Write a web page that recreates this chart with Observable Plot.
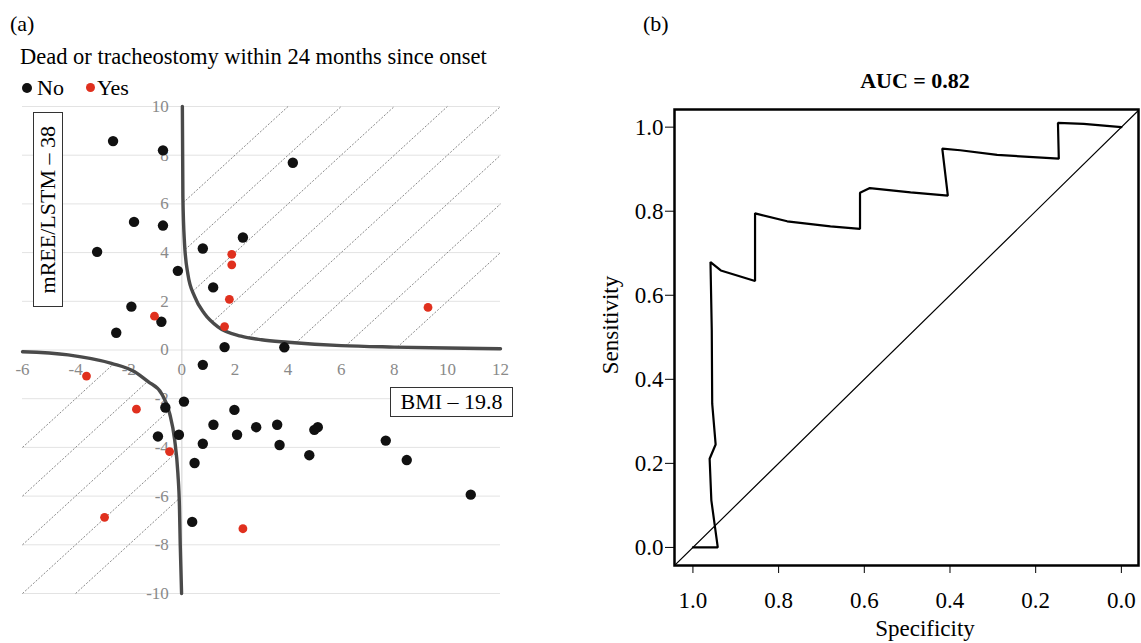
<!DOCTYPE html>
<html><head><meta charset="utf-8">
<script src="https://cdn.jsdelivr.net/npm/d3@7"></script>
<script src="https://cdn.jsdelivr.net/npm/@observablehq/plot@0.6"></script>
<style>
body{margin:0;background:#fff;}
#root{position:relative;width:1141px;height:643px;overflow:hidden;font-family:"Liberation Serif","Times New Roman",serif;color:#000;background:#fff;}
.abs{position:absolute;line-height:1;white-space:nowrap;}
.box{position:absolute;border:1px solid #333;background:#fff;box-sizing:border-box;display:flex;align-items:center;justify-content:center;line-height:1;white-space:nowrap;}
.dot{display:inline-block;border-radius:50%;vertical-align:middle;}
</style></head><body>
<div id="root">
  <div class="abs" style="left:10px;top:13px;font-size:22px;">(a)</div>
  <div class="abs" style="left:20px;top:46px;font-size:22.5px;">Dead or tracheostomy within 24 months since onset</div>
  <div class="abs" style="left:22px;top:77px;font-size:22px;"><span class="dot" style="width:10px;height:10px;background:#111;margin-right:5px;position:relative;top:-2px"></span>No<span class="dot" style="width:9px;height:9px;background:#e0301e;margin-left:22px;margin-right:2px;position:relative;top:-2px"></span>Yes</div>
  <div id="plotA" class="abs" style="left:0px;top:90px;"></div>
  <div class="box" style="left:33px;top:112px;width:30px;height:195px;"><span style="writing-mode:vertical-rl;transform:rotate(180deg);font-size:22px;">mREE/LSTM – 38</span></div>
  <div class="box" style="left:390px;top:387px;width:123px;height:30px;font-size:22px;">BMI – 19.8</div>

  <div class="abs" style="left:643px;top:13px;font-size:22px;">(b)</div>
  <div class="abs" style="left:915px;top:70px;font-size:22px;font-weight:bold;transform:translateX(-50%);">AUC = 0.82</div>
  <div id="plotB" class="abs" style="left:590px;top:60px;"></div>
  <div class="abs" style="left:610px;top:325px;font-size:23px;transform:translate(-50%,-50%) rotate(-90deg);">Sensitivity</div>
  <div class="abs" style="left:925px;top:617px;font-size:23px;transform:translateX(-50%);">Specificity</div>
</div>
<script>
// ---------- Panel (a) data ----------
const noX = [-2.59,-0.71,-1.80,-0.71,-3.19,0.79,2.30,-0.15,1.18,-1.90,-0.77,-2.47,1.61,4.18,3.86,0.79,0.08,-0.62,1.98,1.19,2.80,3.59,-0.90,-0.11,2.08,0.79,3.68,0.48,0.39,4.99,5.12,7.68,4.80,8.47,10.88];
const noY = [8.58,8.20,5.26,5.11,4.03,4.17,4.62,3.25,2.57,1.78,1.16,0.71,0.12,7.69,0.11,-0.61,-2.12,-2.36,-2.46,-3.07,-3.17,-3.07,-3.55,-3.48,-3.48,-3.85,-3.90,-4.64,-7.06,-3.28,-3.17,-3.72,-4.32,-4.52,-5.94];
const yesX = [1.88,1.88,1.79,-1.03,1.61,9.27,-3.59,-1.71,-0.46,-2.91,2.30];
const yesY = [3.93,3.50,2.08,1.39,0.96,1.75,-1.07,-2.43,-4.17,-6.87,-7.34];

const upperX = [0.02,0.04,0.1,0.23,0.48,0.85,1.36,2.23,3.0,4.0,6.0,8.0,10.0,12.0];
const upperY = [10,6.3,4.4,3.1,2.2,1.5,0.95,0.57,0.42,0.32,0.18,0.12,0.08,0.05];
const lowerX = [-6,-4.28,-2.65,-1.78,-1.27,-0.77,-0.46,-0.27,-0.15,-0.09,-0.06,-0.01];
const lowerY = [-0.07,-0.2,-0.55,-0.89,-1.3,-1.78,-2.6,-3.69,-5.05,-6.42,-8,-10];

const xDomainA = [-6, 12];
const yDomainA = [-10, 10];
const xTicksA = [-6,-4,-2,0,2,4,6,8,10,12];
const yTicksA = [-10,-8,-6,-4,-2,0,2,4,6,8,10];
const upperHatchK = [6,4,2,0,-2,-4,-6,-8];   // hatch lines y = x + k
const lowerHatchK = [2,0,-2,-4,-6];

// ---------- Panel (b) data ----------
const rocSpec = [1.0,0.942,0.957,0.961,0.947,0.955,0.956,0.959,0.935,0.855,0.855,0.780,0.679,0.610,0.610,0.587,0.492,0.405,0.418,0.376,0.290,0.146,0.148,0.088,0.0];
const rocSens = [0.0,0.0,0.112,0.211,0.245,0.342,0.516,0.679,0.659,0.634,0.795,0.776,0.764,0.758,0.844,0.855,0.845,0.837,0.949,0.945,0.934,0.925,1.010,1.008,1.0];
const rocTicks = [0,0.2,0.4,0.6,0.8,1.0];
const specDomain = [1.043, -0.04];
const sensDomain = [-0.043, 1.042];

// ---------- helpers ----------
function interp(xs, ys, x) {
  for (let i = 0; i < xs.length - 1; i++) {
    if (x >= xs[i] && x <= xs[i+1]) {
      const t = (x - xs[i]) / (xs[i+1] - xs[i]);
      return ys[i] + t * (ys[i+1] - ys[i]);
    }
  }
  return x < xs[0] ? ys[0] : ys[ys.length-1];
}
function solve(g, lo, hi) {
  for (let i = 0; i < 80; i++) {
    const m = (lo + hi) / 2;
    if (g(m) < 0) lo = m; else hi = m;
  }
  return (lo + hi) / 2;
}
const upperCurve = upperX.map((x,i) => ({x, y: upperY[i]}));
const lowerCurve = lowerX.map((x,i) => ({x, y: lowerY[i]}));
const noPts = noX.map((x,i) => ({x, y: noY[i]}));
const yesPts = yesX.map((x,i) => ({x, y: yesY[i]}));

const hatch = [];
for (const k of upperHatchK) {
  const x1 = solve(x => (x + k) - interp(upperX, upperY, x), upperX[0], upperX[upperX.length-1]);
  const x2 = Math.min(xDomainA[1], yDomainA[1] - k);
  hatch.push({x1, y1: x1 + k, x2, y2: x2 + k});
}
for (const k of lowerHatchK) {
  let x1, y1;
  if (xDomainA[0] + k >= yDomainA[0]) { x1 = xDomainA[0]; y1 = x1 + k; }
  else { y1 = yDomainA[0]; x1 = y1 - k; }
  const x2 = solve(x => (x + k) - interp(lowerX, lowerY, x), lowerX[0], lowerX[lowerX.length-1]);
  hatch.push({x1, y1, x2, y2: x2 + k});
}

const serif = '"Liberation Serif","Times New Roman",serif';

const plotA = Plot.plot({
  width: 540, height: 530,
  marginLeft: 22, marginRight: 40, marginTop: 16, marginBottom: 27,
  x: {domain: xDomainA, axis: null},
  y: {domain: yDomainA, axis: null},
  style: {fontFamily: serif, background: "transparent", overflow: "visible"},
  marks: [
    Plot.ruleY(yTicksA, {x1: xDomainA[0], x2: xDomainA[1], stroke: "#e3e3e3", strokeWidth: 1}),
    Plot.ruleX([0], {y1: yDomainA[0], y2: yDomainA[1], stroke: "#d8d8d8", strokeWidth: 1.2}),
    Plot.link(hatch, {x1: "x1", y1: "y1", x2: "x2", y2: "y2", stroke: "#6a6a6a", strokeWidth: 0.8, strokeDasharray: "2,1.6"}),
    Plot.text(yTicksA, {x: 0, y: d => d, text: d => String(d), dx: -13, textAnchor: "end", fill: "#8a8a8a", fontSize: 17}),
    Plot.text(xTicksA, {x: d => d, y: 0, text: d => String(d), dy: 20, fill: "#8a8a8a", fontSize: 17}),
    Plot.line(upperCurve, {x: "x", y: "y", stroke: "#4a4a4a", strokeWidth: 3.4, curve: "monotone-x"}),
    Plot.line(lowerCurve, {x: "x", y: "y", stroke: "#4a4a4a", strokeWidth: 3.4, curve: "monotone-x"}),
    Plot.dot(noPts, {x: "x", y: "y", r: 5.2, fill: "#111", stroke: "none"}),
    Plot.dot(yesPts, {x: "x", y: "y", r: 4.4, fill: "#e0301e", stroke: "none"})
  ]
});
document.getElementById("plotA").appendChild(plotA);

const rocData = rocSpec.map((s,i) => ({spec: s, sens: rocSens[i]}));
const chance = [specDomain[0] + 0.05, specDomain[1] - 0.05].map(s => ({spec: s, sens: 1 - s}));

const plotB = Plot.plot({
  width: 551, height: 583,
  marginLeft: 84, marginRight: 3, marginTop: 49, marginBottom: 78,
  x: {domain: specDomain, ticks: rocTicks, tickFormat: ".1f", tickSize: 8, tickPadding: 18, label: null},
  y: {domain: sensDomain, ticks: rocTicks, tickFormat: ".1f", tickSize: 9, tickPadding: 2, label: null},
  style: {fontFamily: serif, fontSize: "23px", background: "transparent", color: "#000"},
  marks: [
    Plot.line(chance, {x: "spec", y: "sens", stroke: "#000", strokeWidth: 1.2, clip: true}),
    Plot.line(rocData, {x: "spec", y: "sens", stroke: "#000", strokeWidth: 2.2, strokeLinejoin: "miter"}),
    Plot.frame({stroke: "#000", strokeWidth: 2.5})
  ]
});
document.getElementById("plotB").appendChild(plotB);
</script>
</body></html>
